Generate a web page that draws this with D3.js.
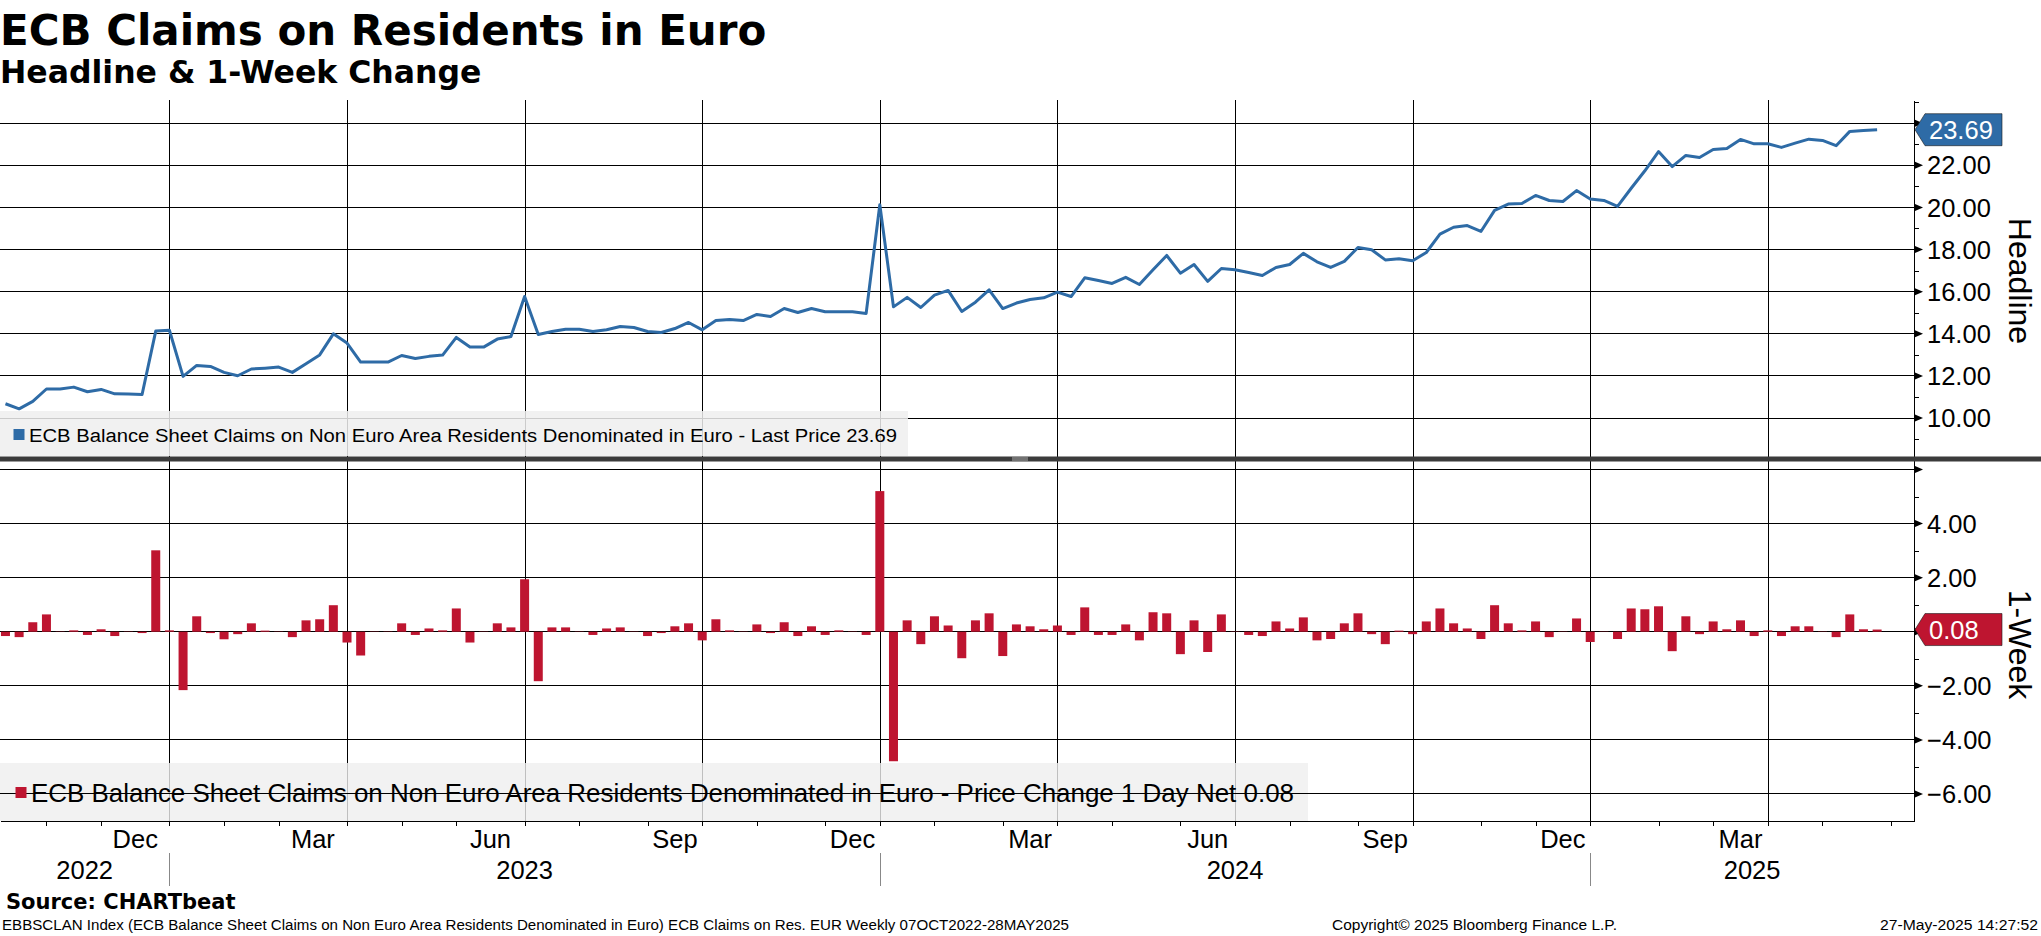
<!DOCTYPE html>
<html>
<head>
  <meta charset="utf-8">
  <style>
    body { margin: 0; background: #fff; }
    svg text { font-family: "Liberation Sans", Arial, sans-serif; fill: #000; }
    .head { font-family: "DejaVu Sans", sans-serif; font-weight: bold; }
    .grid { stroke: #000; stroke-width: 1; shape-rendering: crispEdges; }
    .line { fill: none; stroke: #2e6ba6; stroke-width: 3; stroke-linejoin: round; }
    .bar { fill: #be1530; }
    .axis path, .axis line { stroke: #000; shape-rendering: crispEdges; }
  </style>
  <script src="https://d3js.org/d3.v7.min.js"></script>
</head>
<body>
<script>
  // weekly points, first one on 13 Oct 2022
  var firstWeek = new Date(2022, 9, 13);

  var headline = [
    10.68, 10.44, 10.79, 11.38, 11.38, 11.47, 11.25, 11.36, 11.15, 11.14,
    11.12, 14.13, 14.17, 11.98, 12.50, 12.45, 12.17, 12.01, 12.33, 12.37,
    12.42, 12.17, 12.58, 13.00, 14.00, 13.56, 12.66, 12.66, 12.66, 12.97,
    12.83, 12.93, 12.99, 13.83, 13.37, 13.37, 13.75, 13.87, 15.77, 13.97,
    14.11, 14.22, 14.22, 14.11, 14.19, 14.35, 14.30, 14.11, 14.06, 14.25,
    14.54, 14.19, 14.63, 14.68, 14.63, 14.92, 14.82, 15.20, 15.01, 15.20,
    15.05, 15.05, 15.05, 14.97, 20.13, 15.28, 15.73, 15.25, 15.84, 16.06,
    15.06, 15.50, 16.09, 15.20, 15.46, 15.63, 15.71, 15.98, 15.77, 16.66,
    16.53, 16.39, 16.68, 16.34, 17.04, 17.72, 16.88, 17.29, 16.49, 17.10,
    17.04, 16.91, 16.77, 17.15, 17.29, 17.82, 17.42, 17.15, 17.44, 18.10,
    17.99, 17.51, 17.56, 17.47, 17.86, 18.73, 19.06, 19.14, 18.86, 19.86,
    20.16, 20.19, 20.57, 20.33, 20.28, 20.80, 20.40, 20.33, 20.05, 20.91,
    21.74, 22.65, 21.94, 22.47, 22.37, 22.75, 22.80, 23.23, 23.02, 23.02,
    22.85, 23.05, 23.24, 23.18, 22.93, 23.61, 23.65, 23.69
  ];

  var weekChange = [
    -0.16, -0.20, 0.35, 0.64, -0.01, 0.05, -0.12, 0.09, -0.16, -0.01,
    -0.05, 3.01, 0.05, -2.16, 0.57, -0.05, -0.28, -0.09, 0.31, 0.04,
    0.01, -0.20, 0.42, 0.46, 0.98, -0.40, -0.88, 0.01, 0.01, 0.31,
    -0.12, 0.12, 0.05, 0.86, -0.40, 0.01, 0.31, 0.16, 1.94, -1.83,
    0.16, 0.16, -0.01, -0.12, 0.12, 0.16, 0.01, -0.16, -0.05, 0.20,
    0.31, -0.32, 0.46, 0.05, -0.01, 0.27, -0.05, 0.35, -0.16, 0.20,
    -0.12, 0.05, 0.01, -0.12, 5.20, -4.79, 0.42, -0.46, 0.57, 0.23,
    -0.98, 0.42, 0.68, -0.90, 0.27, 0.20, 0.09, 0.23, -0.12, 0.90,
    -0.12, -0.12, 0.27, -0.32, 0.72, 0.68, -0.83, 0.42, -0.75, 0.64,
    -0.01, -0.12, -0.16, 0.38, 0.12, 0.53, -0.32, -0.27, 0.31, 0.68,
    -0.09, -0.46, 0.04, -0.09, 0.38, 0.86, 0.31, 0.12, -0.27, 0.98,
    0.31, 0.05, 0.38, -0.20, 0.01, 0.49, -0.38, -0.01, -0.27, 0.86,
    0.83, 0.94, -0.72, 0.57, -0.09, 0.38, 0.09, 0.42, -0.16, 0.05,
    -0.16, 0.20, 0.20, -0.01, -0.20, 0.64, 0.09, 0.08
  ];

  var headlineTicks = [10, 12, 14, 16, 18, 20, 22, 24];
  var headlineLabels = [10, 12, 14, 16, 18, 20, 22];
  var headlineMinor = [9, 11, 13, 15, 17, 19, 21, 23, 25];
  var changeTicks = [-6, -4, -2, 0, 2, 4, 6];
  var changeLabels = [-6, -4, -2, 2, 4];
  var changeMinor = [-5, -3, -1, 1, 3, 5];
  var monthNames = ["Jan", "Feb", "Mar", "Apr", "May", "Jun", "Jul", "Aug", "Sep", "Oct", "Nov", "Dec"];

  var title = "ECB Claims on Residents in Euro";
  var subtitle = "Headline & 1-Week Change";
  var legend1 = "ECB Balance Sheet Claims on Non Euro Area Residents Denominated in Euro - Last Price 23.69";
  var legend2 = "ECB Balance Sheet Claims on Non Euro Area Residents Denominated in Euro - Price Change 1 Day Net 0.08";

  var blue = "#2e6ba6", red = "#be1530";
  var plotRight = 1914;

  var svg = d3.select("body").append("svg")
      .attr("width", 2041)
      .attr("height", 936);

  var x = d3.scaleLinear().domain([-0.4, 139.7]).range([0, plotRight]);
  var yTop = d3.scaleLinear().domain([8.2, 25.1]).range([456, 100]);
  var yBot = d3.scaleLinear().domain([-7, 6.35]).range([821, 460]);

  // week dates (a bit past the data so the last month tick shows)
  var weeks = d3.range(0, 140).map(function(i) { return d3.timeDay.offset(firstWeek, 7 * i); });
  var monthStarts = d3.range(1, 140).filter(function(i) {
    return weeks[i].getMonth() != weeks[i - 1].getMonth();
  });
  var quarterStarts = monthStarts.filter(function(i) { return weeks[i].getMonth() % 3 == 0; });
  var yearStarts = monthStarts.filter(function(i) { return weeks[i].getMonth() == 0; });

  // titles
  svg.append("text").attr("class", "head").attr("x", 0).attr("y", 45)
      .attr("font-size", "42px").text(title);
  svg.append("text").attr("class", "head").attr("x", 0).attr("y", 83)
      .attr("font-size", "31.5px").text(subtitle);

  // vertical grid
  svg.append("g").selectAll("line")
    .data(quarterStarts)
    .enter().append("line")
      .attr("class", "grid")
      .attr("x1", function(d) { return Math.round(x(d)) + 0.5; })
      .attr("x2", function(d) { return Math.round(x(d)) + 0.5; })
      .attr("y1", 100)
      .attr("y2", 826);

  // horizontal grid, top panel
  svg.append("g").selectAll("line")
    .data(headlineTicks)
    .enter().append("line")
      .attr("class", "grid")
      .attr("x1", 0).attr("x2", plotRight)
      .attr("y1", function(d) { return yTop(d); })
      .attr("y2", function(d) { return yTop(d); });

  // legend boxes
  svg.append("rect").attr("x", 0).attr("y", 411).attr("width", 908).attr("height", 45)
      .attr("fill", "#efefef").attr("opacity", 0.85);
  svg.append("rect").attr("x", 0).attr("y", 763).attr("width", 1308).attr("height", 58)
      .attr("fill", "#efefef").attr("opacity", 0.8);

  // horizontal grid, bottom panel
  svg.append("g").selectAll("line")
    .data(changeTicks)
    .enter().append("line")
      .attr("class", "grid")
      .attr("x1", 0).attr("x2", plotRight)
      .attr("y1", function(d) { return yBot(d); })
      .attr("y2", function(d) { return yBot(d); });

  // headline line
  var line = d3.line()
      .x(function(d, i) { return x(i); })
      .y(function(d) { return yTop(d); });

  svg.append("path")
    .attr("class", "line")
    .attr("d", line(headline));

  // weekly change bars
  svg.append("g").selectAll("rect")
    .data(weekChange)
    .enter().append("rect")
      .attr("class", "bar")
      .attr("x", function(d, i) { return x(i) - 4.5; })
      .attr("width", 9)
      .attr("y", function(d) { return yBot(Math.max(0, d)); })
      .attr("height", function(d) { return Math.abs(yBot(d) - yBot(0)); });

  // legends
  svg.append("rect").attr("x", 13.5).attr("y", 429).attr("width", 11).attr("height", 11).attr("fill", blue);
  svg.append("text").attr("x", 29).attr("y", 442).attr("font-size", "18.8px")
      .attr("textLength", 868).attr("lengthAdjust", "spacingAndGlyphs").text(legend1);
  svg.append("rect").attr("x", 15.5).attr("y", 787).attr("width", 11).attr("height", 11).attr("fill", red);
  svg.append("text").attr("x", 31).attr("y", 802).attr("font-size", "25.5px")
      .attr("textLength", 1263).attr("lengthAdjust", "spacingAndGlyphs").text(legend2);

  // right axes: minor ticks, arrow ticks, labels
  function rightAxis(scale, major, minor, labelled) {
    svg.append("g").attr("class", "axis")
        .attr("transform", "translate(" + plotRight + ",0)")
        .call(d3.axisRight(scale).tickValues(minor).tickSize(5).tickSizeOuter(0).tickFormat(""));
    var lab = svg.append("g")
        .attr("transform", "translate(" + plotRight + ",0)");
    lab.selectAll("path")
      .data(major)
      .enter().append("path")
        .attr("d", function(d) {
          var y = scale(d);
          return "M1," + (y - 3.5) + "L9," + y + "L1," + (y + 3.5) + "Z";
        })
        .attr("fill", "#000");
    lab.selectAll("text")
      .data(labelled)
      .enter().append("text")
        .attr("x", 13)
        .attr("y", function(d) { return scale(d); })
        .attr("dy", "0.36em")
        .attr("font-size", "25.5px")
        .text(function(d) { return d3.format(".2f")(d); });
  }
  rightAxis(yTop, headlineTicks, headlineMinor, headlineLabels);
  rightAxis(yBot, changeTicks, changeMinor, changeLabels);

  // x axis
  svg.append("g")
      .attr("class", "axis")
      .attr("transform", "translate(0,821)")
      .call(d3.axisBottom(x).tickValues(monthStarts).tickSize(5).tickSizeOuter(0).tickFormat(""));

  // month labels centred between month ticks
  var labelled = monthStarts.filter(function(d, k) {
    return weeks[d].getMonth() % 3 == 2 && k < monthStarts.length - 1;
  });
  svg.append("g").selectAll("text")
    .data(labelled)
    .enter().append("text")
      .attr("x", function(d) {
        var next = monthStarts[monthStarts.indexOf(d) + 1];
        return (x(d) + x(next)) / 2;
      })
      .attr("y", 848)
      .attr("text-anchor", "middle")
      .attr("font-size", "25.5px")
      .text(function(d) { return monthNames[weeks[d].getMonth()]; });

  // years
  var bounds = [0].concat(yearStarts.map(function(d) { return x(d); })).concat([plotRight]);
  var years = d3.range(0, bounds.length - 1).map(function(k) { return weeks[0].getFullYear() + k; });
  svg.append("g").selectAll("text")
    .data(years)
    .enter().append("text")
      .attr("x", function(d, k) { return (bounds[k] + bounds[k + 1]) / 2; })
      .attr("y", 879)
      .attr("text-anchor", "middle")
      .attr("font-size", "25.5px")
      .text(function(d) { return d; });
  svg.append("g").selectAll("line")
    .data(yearStarts)
    .enter().append("line")
      .attr("x1", function(d) { return Math.round(x(d)) + 0.5; })
      .attr("x2", function(d) { return Math.round(x(d)) + 0.5; })
      .attr("y1", 853).attr("y2", 886)
      .attr("stroke", "#888");

  // panel separator
  svg.append("rect").attr("x", 0).attr("y", 456.5).attr("width", 2041).attr("height", 5).attr("fill", "#3b3b3b");
  svg.append("line").attr("x1", 1012).attr("x2", 1028).attr("y1", 458).attr("y2", 458).attr("stroke", "#aaa");
  svg.append("line").attr("x1", 1012).attr("x2", 1028).attr("y1", 460).attr("y2", 460).attr("stroke", "#aaa");

  // last value badges
  function badge(y, color, label) {
    svg.append("path")
      .attr("d", "M" + (plotRight + 1) + "," + y + "L" + (plotRight + 11) + "," + (y - 16) +
                 "L2002," + (y - 16) + "L2002," + (y + 16) + "L" + (plotRight + 11) + "," + (y + 16) + "Z")
      .attr("fill", color)
      .attr("stroke", "#1a1a1a")
      .attr("stroke-width", 0.6);
    svg.append("text")
      .attr("x", plotRight + 15)
      .attr("y", y)
      .attr("dy", "0.36em")
      .attr("font-size", "25.5px")
      .style("fill", "#fff")
      .text(label);
  }
  badge(yTop(headline[headline.length - 1]), blue, d3.format(".2f")(headline[headline.length - 1]));
  badge(yBot(weekChange[weekChange.length - 1]), red, d3.format(".2f")(weekChange[weekChange.length - 1]));

  // axis titles
  svg.append("text")
      .attr("transform", "translate(2009," + ((100 + 456) / 2 + 3) + ") rotate(90)")
      .attr("text-anchor", "middle")
      .attr("font-size", "32px")
      .text("Headline");
  svg.append("text")
      .attr("transform", "translate(2009," + ((462 + 821) / 2 + 3) + ") rotate(90)")
      .attr("text-anchor", "middle")
      .attr("font-size", "32px")
      .text("1-Week");

  // footer
  svg.append("text").attr("class", "head").attr("x", 6).attr("y", 909)
      .attr("font-size", "21px").text("Source: CHARTbeat");
  svg.append("text").attr("x", 2).attr("y", 930).attr("font-size", "14px")
      .attr("textLength", 1067).attr("lengthAdjust", "spacingAndGlyphs")
      .text("EBBSCLAN Index (ECB Balance Sheet Claims on Non Euro Area Residents Denominated in Euro) ECB Claims on Res. EUR  Weekly 07OCT2022-28MAY2025");
  svg.append("text").attr("x", 1332).attr("y", 930).attr("font-size", "14px")
      .attr("textLength", 285).attr("lengthAdjust", "spacingAndGlyphs")
      .text("Copyright\u00a9 2025 Bloomberg Finance L.P.");
  svg.append("text").attr("x", 1880).attr("y", 930).attr("font-size", "14px")
      .attr("textLength", 158).attr("lengthAdjust", "spacingAndGlyphs")
      .text("27-May-2025 14:27:52");
</script>
</body>
</html>
